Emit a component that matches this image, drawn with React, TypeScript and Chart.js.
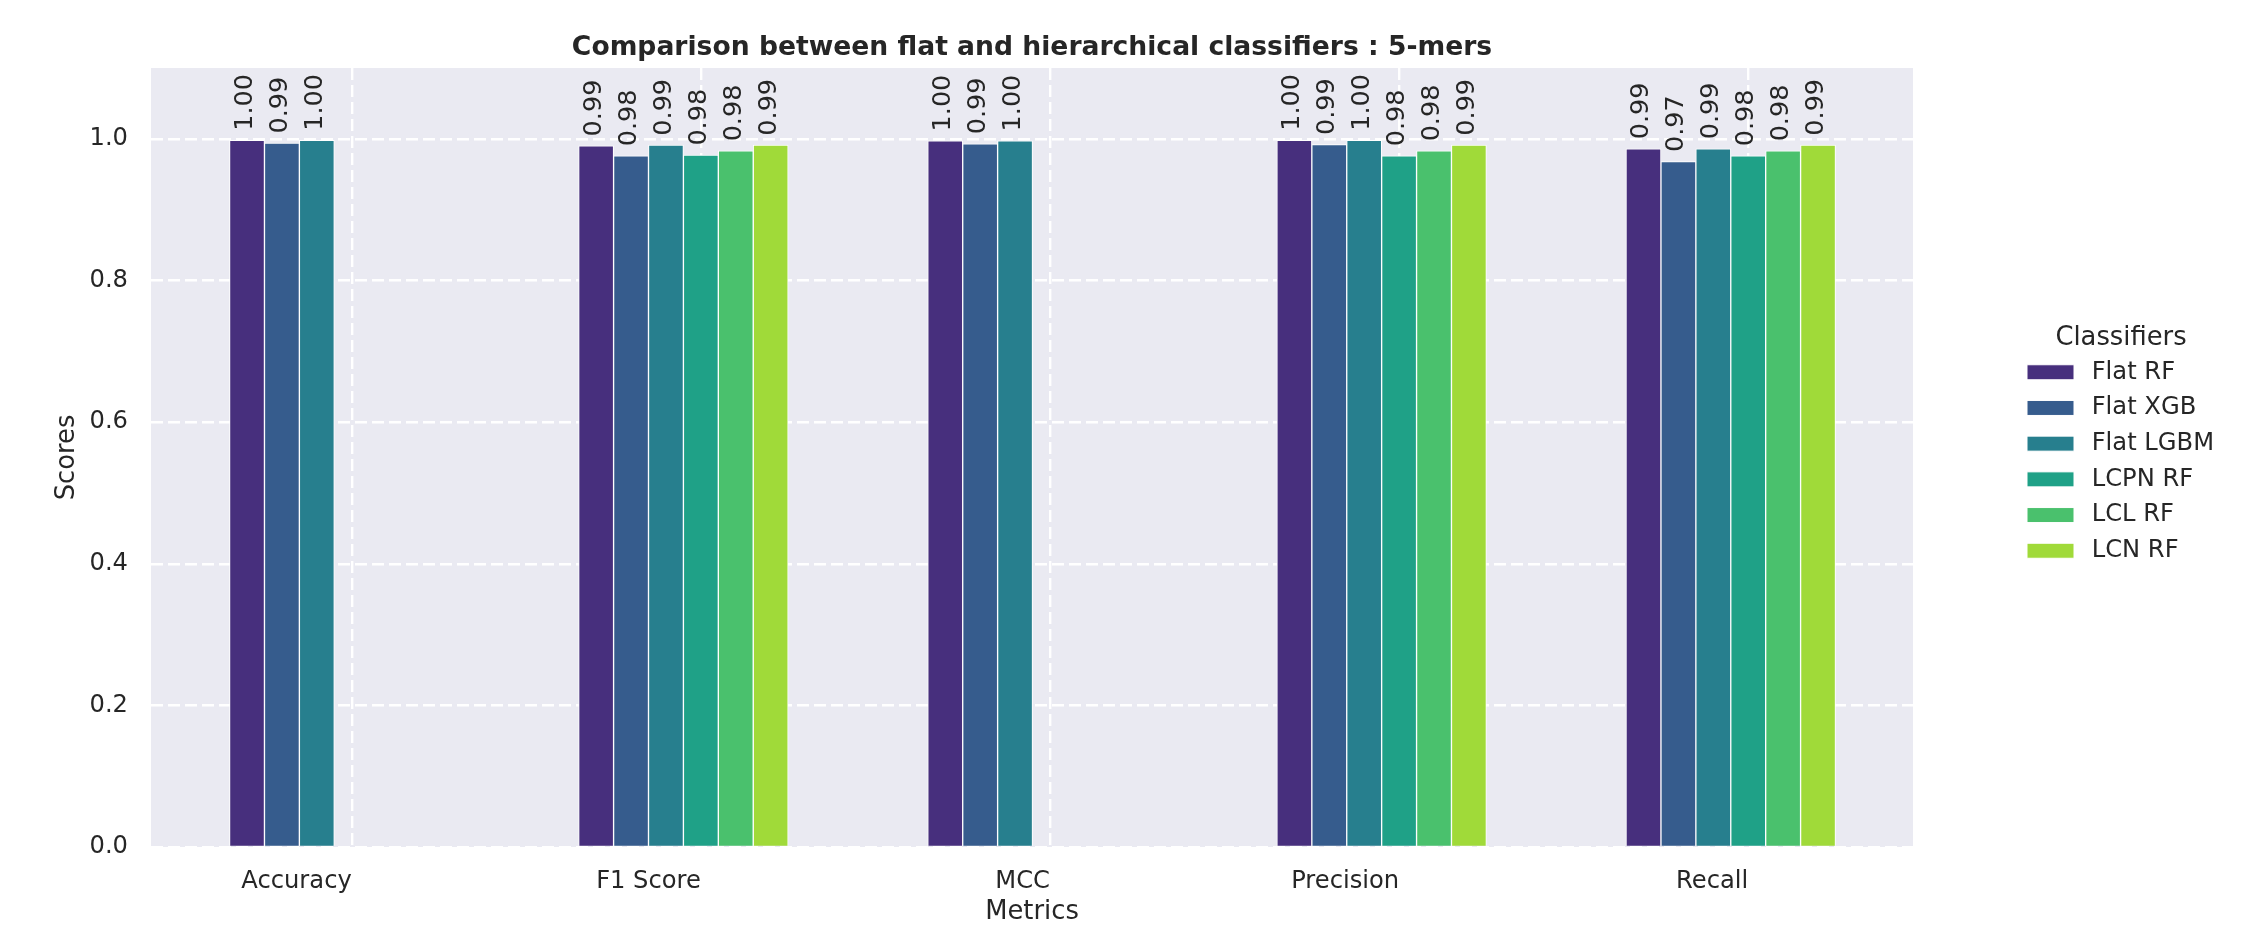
import { useEffect, useRef } from 'react';
import { Chart, registerables } from 'chart.js';

Chart.register(...registerables);

// ---- data ----
const metrics = ['Accuracy', 'F1 Score', 'MCC', 'Precision', 'Recall'];
const classifiers = ['Flat RF', 'Flat XGB', 'Flat LGBM', 'LCPN RF', 'LCL RF', 'LCN RF'];
const flatRF = [0.998, 0.990, 0.997, 0.998, 0.986];
const flatXGB = [0.994, 0.976, 0.993, 0.992, 0.968];
const flatLGBM = [0.998, 0.991, 0.997, 0.998, 0.986];
const lcpnRF: (number | null)[] = [null, 0.977, null, 0.976, 0.976];
const lclRF: (number | null)[] = [null, 0.983, null, 0.983, 0.983];
const lcnRF: (number | null)[] = [null, 0.991, null, 0.991, 0.991];
const colors = ['#472f7d', '#365c8d', '#277f8e', '#1fa187', '#4ac16d', '#a0da39'];

const seriesValues = [flatRF, flatXGB, flatLGBM, lcpnRF, lclRF, lcnRF];
const BAR_W = 0.1; // bar width in category units

const TEXT = '#262626';
const FONT = '"DejaVu Sans"';

const bgPlugin = {
  id: 'bgPlugin',
  beforeDraw(chart: any) {
    const { ctx, chartArea, width, height } = chart;
    ctx.save();
    ctx.fillStyle = '#ffffff';
    ctx.fillRect(0, 0, width, height);
    ctx.fillStyle = '#eaeaf2';
    ctx.fillRect(chartArea.left, chartArea.top, chartArea.right - chartArea.left, chartArea.bottom - chartArea.top);
    ctx.restore();
  },
};

const valueLabels = {
  id: 'valueLabels',
  afterDatasetsDraw(chart: any) {
    const { ctx } = chart;
    ctx.save();
    ctx.font = `25.5px ${FONT}`;
    ctx.fillStyle = TEXT;
    ctx.textAlign = 'left';
    ctx.textBaseline = 'middle';
    chart.data.datasets.forEach((ds: any, di: number) => {
      const meta = chart.getDatasetMeta(di);
      meta.data.forEach((el: any, i: number) => {
        const v = ds.data[i].y as number;
        ctx.save();
        ctx.translate(el.x - 1.8, el.y - 9.5);
        ctx.rotate(-Math.PI / 2);
        ctx.fillText(v.toFixed(2), 0, 0);
        ctx.restore();
      });
    });
    ctx.restore();
  },
};

const sideLegend = {
  id: 'sideLegend',
  afterDraw(chart: any) {
    const { ctx, chartArea } = chart;
    const dsets = chart.data.datasets;
    const n = dsets.length;
    const step = 35.7;
    const x0 = chartArea.right + 114;
    const cy = (chartArea.top + chartArea.bottom) / 2 + 4;
    const firstY = cy - ((n - 1) / 2) * step;
    ctx.save();
    ctx.fillStyle = TEXT;
    ctx.textBaseline = 'middle';
    ctx.textAlign = 'center';
    ctx.font = `25.8px ${FONT}`;
    ctx.fillText('Classifiers', x0 + 94, firstY - 34);
    ctx.textAlign = 'left';
    ctx.font = `24.2px ${FONT}`;
    dsets.forEach((ds: any, i: number) => {
      const y = firstY + i * step;
      ctx.fillStyle = ds.backgroundColor;
      ctx.fillRect(x0, y - 7.5, 47, 15);
      ctx.strokeStyle = '#ffffff';
      ctx.lineWidth = 1;
      ctx.strokeRect(x0, y - 7.5, 47, 15);
      ctx.fillStyle = TEXT;
      ctx.fillText(ds.label, x0 + 64.7, y);
    });
    ctx.restore();
  },
};

export default function App() {
  const ref = useRef<HTMLCanvasElement>(null);

  useEffect(() => {
    document.body.style.margin = '0';
    Chart.defaults.font.family = FONT;
    Chart.defaults.color = TEXT;

    const datasets = classifiers.map((name, si) => ({
      label: name,
      data: seriesValues[si]
        .map((v, ci) => (v === null ? null : { x: ci + (si - 3) * BAR_W, y: v }))
        .filter((p) => p !== null) as { x: number; y: number }[],
      backgroundColor: colors[si],
      borderColor: '#ffffff',
      borderWidth: 1,
      grouped: false,
      categoryPercentage: 1,
      barPercentage: 1,
    }));

    const chart = new Chart(ref.current as HTMLCanvasElement, {
      type: 'bar',
      data: { datasets },
      plugins: [bgPlugin, valueLabels, sideLegend],
      options: {
        animation: false,
        responsive: false,
        devicePixelRatio: 1,
        layout: { padding: { left: 0, right: 341, top: 0, bottom: 0 } },
        plugins: {
          legend: { display: false },
          tooltip: { enabled: false },
          title: {
            display: true,
            fullSize: false,
            text: 'Comparison between flat and hierarchical classifiers : 5-mers',
            color: TEXT,
            font: { size: 26.6, weight: 'bold', family: FONT },
            padding: { top: 32, bottom: 4.08 },
          },
        },
        scales: {
          x: {
            type: 'linear',
            position: 'bottom',
            offset: false,
            min: -0.575,
            max: 4.472,
            afterFit(scale: any) {
              scale.height = 81;
            },
            grid: { offset: false, color: '#ffffff', lineWidth: 2.4, drawTicks: false, borderDash: [12, 5] } as any,
            border: { display: false, dash: [12, 5] },
            ticks: {
              stepSize: 1,
              includeBounds: false,
              autoSkip: false,
              maxRotation: 0,
              minRotation: 0,
              align: 'end',
              padding: 20.5,
              color: TEXT,
              font: { size: 24.2, family: FONT },
              callback: (v: any) => metrics[Math.round(Number(v))] ?? '',
            },
            title: {
              display: true,
              text: 'Metrics',
              color: TEXT,
              font: { size: 25.8, family: FONT },
              padding: { top: 0, bottom: 0 },
            },
          },
          y: {
            type: 'linear',
            min: 0,
            max: 1.1,
            afterFit(scale: any) {
              scale.width = 151;
            },
            grid: { color: '#ffffff', lineWidth: 2.4, drawTicks: false, borderDash: [12, 5] } as any,
            border: { display: false, dash: [12, 5] },
            ticks: {
              stepSize: 0.2,
              includeBounds: false,
              padding: 23,
              color: TEXT,
              font: { size: 24.2, family: FONT },
              callback: (v: any) => Number(v).toFixed(1),
            },
            title: {
              display: true,
              text: 'Scores',
              color: TEXT,
              font: { size: 25.8, family: FONT },
              padding: { top: 52, bottom: 0 },
            },
          },
        },
      } as any,
    });
    return () => chart.destroy();
  }, []);

  return (
    <div style={{ width: 2254, height: 928 }}>
      <canvas ref={ref} width={2254} height={928} style={{ display: 'block' }} />
    </div>
  );
}
